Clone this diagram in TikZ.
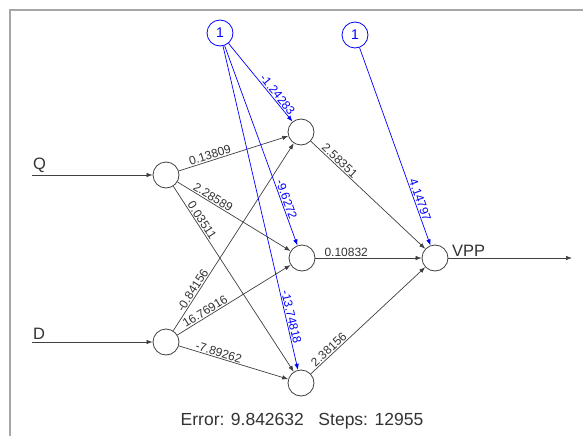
\documentclass[tikz,border=0pt]{standalone}
\usepackage{fontspec}
\setmainfont{Liberation Sans}
\usetikzlibrary{arrows.meta}
\begin{document}
\begin{tikzpicture}[x=1pt,y=-1pt,
  neuron/.style={circle,draw=black!75,line width=0.8pt,minimum size=26pt,inner sep=0pt},
  biasnode/.style={circle,draw=blue,line width=0.8pt,minimum size=26pt,inner sep=0pt,text=blue,font=\fontsize{14}{14}\selectfont},
  wire/.style={draw=black!75,line width=0.7pt,-{Latex[length=6pt,width=4.5pt]}},
  bwire/.style={draw=blue,line width=0.7pt,-{Latex[length=6pt,width=4.5pt]}},
  wlab/.style={sloped,above,inner sep=1pt,text=black!80,font=\fontsize{12}{12}\selectfont},
  blab/.style={sloped,above,inner sep=1pt,text=blue,font=\fontsize{12}{12}\selectfont},
  iolab/.style={text=black!80,font=\fontsize{16.5}{16.5}\selectfont,inner sep=1pt},
]
\useasboundingbox (0,0) rectangle (583,436);
\fill[white] (0,0) rectangle (583,436);
% frame
\draw[black!35,line width=1.5pt] (583,10) -- (10,10) -- (10,436);

% neurons
\node[neuron] (Q) at (166,175) {};
\node[neuron] (D) at (166,342) {};
\node[neuron] (H1) at (301,132) {};
\node[neuron] (H2) at (302,258) {};
\node[neuron] (H3) at (301,383) {};
\node[neuron] (O) at (435,258) {};
\node[biasnode] (B1) at (220,33) {1};
\node[biasnode] (B2) at (355,35) {1};

% inputs and output
\coordinate (qin) at (32,175);
\coordinate (din) at (32,342);
\coordinate (oout) at (572,258);
\draw[wire] (qin) -- (Q);
\draw[wire] (din) -- (D);
\draw[wire] (O) -- (oout);
\node[iolab,anchor=south west] (lq) at (32,174) {Q};
\node[iolab,anchor=south west] (ld) at (32,341) {D};
\node[iolab,anchor=south west] (lvpp) at (451,258) {VPP};

% input -> hidden
\draw[wire] (Q) -- node[wlab,pos=0.30] {0.13809} (H1);
\draw[wire] (Q) -- node[wlab,pos=0.29] {2.28589} (H2);
\draw[wire] (Q) -- node[wlab,pos=0.20] {0.03511} (H3);
\draw[wire] (D) -- node[wlab,pos=0.20] {-0.84156} (H1);
\draw[wire] (D) -- node[wlab,pos=0.27] {16.76916} (H2);
\draw[wire] (D) -- node[wlab,pos=0.35] {-7.89262} (H3);

% hidden -> output
\draw[wire] (H1) -- node[wlab,pos=0.22] {2.58351} (O);
\draw[wire] (H2) -- node[wlab,pos=0.29] {0.10832} (O);
\draw[wire] (H3) -- node[wlab,pos=0.19] {2.38156} (O);

% bias connections
\draw[bwire] (B1) -- node[blab,pos=0.70] {-1.24283} (H1);
\draw[bwire] (B1) -- node[blab,pos=0.78] {-9.6272} (H2);
\draw[bwire] (B1) -- node[blab,pos=0.84] {-13.74818} (H3);
\draw[bwire] (B2) -- node[blab,pos=0.78] {4.14797} (O);

% training summary
\node[iolab,font=\fontsize{17.5}{17.5}\selectfont] (err) at (302,421) {Error: 9.842632\ \ \ Steps: 12955};
\end{tikzpicture}
\end{document}
